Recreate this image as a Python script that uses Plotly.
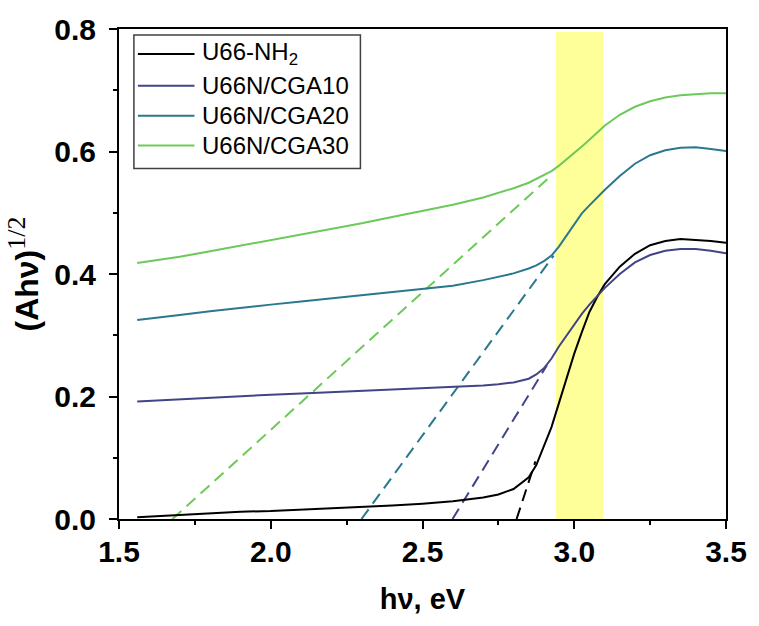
import plotly.graph_objects as go

# photon energy (eV)
x_curve = [1.56, 1.6, 1.7, 1.8, 1.9, 2.0, 2.1, 2.2, 2.3, 2.4, 2.5, 2.6, 2.7, 2.75, 2.8, 2.85, 2.875,
           2.9, 2.925, 2.95, 2.975, 3.0, 3.025, 3.05, 3.075, 3.1, 3.15, 3.2, 3.25, 3.3, 3.35, 3.4, 3.45, 3.5]

y_u66nh2 = [0.003, 0.004, 0.007, 0.010, 0.012, 0.013, 0.015, 0.017, 0.019, 0.022, 0.025, 0.029, 0.035, 0.040,
            0.049, 0.068, 0.088, 0.118, 0.150, 0.190, 0.232, 0.270, 0.305, 0.338, 0.362, 0.383, 0.412, 0.433,
            0.447, 0.454, 0.457, 0.456, 0.454, 0.451]
y_cga10 = [0.192, 0.193, 0.196, 0.199, 0.201, 0.203, 0.205, 0.207, 0.209, 0.211, 0.213, 0.215, 0.218, 0.220,
           0.223, 0.229, 0.236, 0.246, 0.262, 0.282, 0.300, 0.318, 0.335, 0.350, 0.364, 0.377, 0.400, 0.419,
           0.431, 0.438, 0.441, 0.441, 0.438, 0.434]
y_cga20 = [0.325, 0.327, 0.333, 0.339, 0.345, 0.350, 0.355, 0.360, 0.365, 0.370, 0.375, 0.381, 0.390, 0.395,
           0.401, 0.409, 0.414, 0.421, 0.430, 0.445, 0.463, 0.482, 0.499, 0.512, 0.525, 0.537, 0.560, 0.580,
           0.594, 0.602, 0.606, 0.607, 0.604, 0.601]
y_cga30 = [0.418, 0.421, 0.428, 0.437, 0.446, 0.455, 0.464, 0.473, 0.483, 0.493, 0.503, 0.513, 0.525, 0.532,
           0.540, 0.549, 0.555, 0.561, 0.568, 0.577, 0.587, 0.597, 0.608, 0.619, 0.631, 0.642, 0.660, 0.673,
           0.682, 0.688, 0.692, 0.694, 0.695, 0.695]

# Tauc tangent lines (endpoints)
tan_u66nh2_x = [2.81, 2.872]
tan_u66nh2_y = [0.0, 0.094]
tan_cga10_x = [2.599, 2.91]
tan_cga10_y = [0.0, 0.251]
tan_cga20_x = [2.299, 2.932]
tan_cga20_y = [0.0, 0.43]
tan_cga30_x = [1.676, 2.916]
tan_cga30_y = [0.0, 0.557]

# highlighted band (eV)
band = [2.94, 3.095]

names = ["U66-NH<sub>2</sub>", "U66N/CGA10", "U66N/CGA20", "U66N/CGA30"]
colors = ["#000000", "#414487", "#2A788E", "#6CC95A"]
curves = [y_u66nh2, y_cga10, y_cga20, y_cga30]
tangents = [(tan_u66nh2_x, tan_u66nh2_y), (tan_cga10_x, tan_cga10_y),
            (tan_cga20_x, tan_cga20_y), (tan_cga30_x, tan_cga30_y)]

SANS = "Liberation Sans, Arial, sans-serif"
SERIF = "'Liberation Serif', 'Times New Roman', serif"

W, H = 759, 626
ML, MR, MT, MB = 119, 29, 27, 107
PW, PH = W - ML - MR, H - MT - MB


def px(X):
    return (X - ML) / PW


def py(Y):
    return (H - MB - Y) / PH


fig = go.Figure()

for (tx, ty), c in zip(tangents, colors):
    fig.add_trace(go.Scatter(x=tx, y=ty, mode="lines", showlegend=False,
                             line=dict(color=c, width=2, dash="12px,7px"), hoverinfo="skip"))

for n, c, y in zip(names, colors, curves):
    fig.add_trace(go.Scatter(x=x_curve, y=y, mode="lines", name=n, showlegend=False,
                             line=dict(color=c, width=2)))

fig.add_shape(type="rect", xref="x", yref="y", x0=band[0], x1=band[1], y0=0, y1=0.795,
              fillcolor="#FFFF99", line=dict(width=0), layer="below")

# legend box, drawn by hand to match the reference proportions
fig.add_shape(type="rect", xref="paper", yref="paper", x0=px(134), x1=px(362), y0=py(167), y1=py(33),
              line=dict(color="#404040", width=1.5), fillcolor="rgba(0,0,0,0)")
row_y = [52, 84, 114, 144]
for n, c, ry in zip(names, colors, row_y):
    fig.add_shape(type="line", xref="paper", yref="paper", x0=px(138), x1=px(195), y0=py(ry), y1=py(ry),
                  line=dict(color=c, width=2))
    fig.add_annotation(xref="paper", yref="paper", x=px(201), y=py(ry), text=n, showarrow=False,
                       xanchor="left", yanchor="middle",
                       font=dict(family=SANS, size=24, color="black"))

axis_common = dict(showline=True, linecolor="black", linewidth=2, mirror=True,
                   ticks="outside", ticklen=8, tickwidth=2, tickcolor="black",
                   showgrid=False, zeroline=False,
                   tickfont=dict(family=SANS, size=30, color="black", weight="bold"))

fig.update_xaxes(range=[1.5, 3.5], dtick=0.5, tick0=1.5, tickformat=".1f", ticklabelstandoff=-3,
                 minor=dict(ticks="outside", ticklen=4, tickwidth=2, tickcolor="black", dtick=0.25),
                 title=dict(text="<b>hν, eV</b>", font=dict(family=SANS, size=29, color="black"), standoff=22),
                 **axis_common)
fig.update_yaxes(range=[0, 0.8], dtick=0.2, tick0=0, tickformat=".1f", ticklabelstandoff=7,
                 minor=dict(ticks="outside", ticklen=4, tickwidth=2, tickcolor="black", dtick=0.1),
                 title=dict(text="<b>(Ahν)</b><sup><span style=\"font-family:" + SERIF + ";font-size:26px\">1/2</span></sup>",
                            font=dict(family=SANS, size=32, color="black"), standoff=6),
                 **axis_common)

fig.update_layout(
    width=W, height=H,
    margin=dict(l=ML, r=MR, t=MT, b=MB),
    paper_bgcolor="white", plot_bgcolor="white",
    showlegend=False,
)

fig.write_html("out.html", config={"displayModeBar": False},
               post_script="document.body.style.margin='0px';")
